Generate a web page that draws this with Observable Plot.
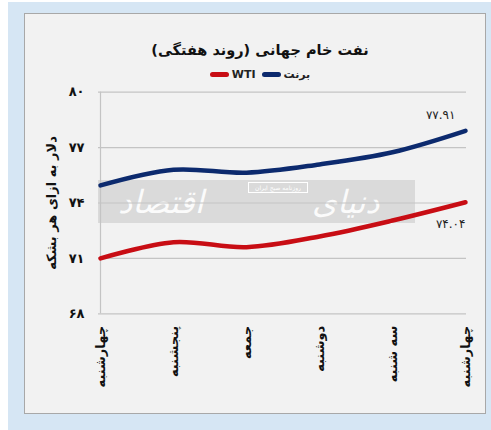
<!DOCTYPE html>
<html>
<head>
<meta charset="utf-8">
<script src="https://cdn.jsdelivr.net/npm/d3@7"></script>
<script src="https://cdn.jsdelivr.net/npm/@observablehq/plot@0.6"></script>
<style>
  body { margin: 0; background: #fff; width: 491px; height: 430px; overflow: hidden; position: relative; font-family: "DejaVu Sans", sans-serif; }
  .outer { position: absolute; left: 8px; top: 2px; width: 483px; height: 428px; background: #d6e6f4; }
  .panel { position: absolute; left: 24px; top: 13px; width: 462px; height: 401px; background: #f2f2f2; border: 1px solid #a8a8a8; box-sizing: border-box; }
  .title { position: absolute; left: 130px; width: 260px; top: 42px; text-align: center; font-weight: bold; font-size: 14.5px; color: #111; direction: rtl; }
  .legend { position: absolute; left: 160px; width: 200px; top: 68px; display: flex; justify-content: center; direction: rtl; gap: 6px; font-size: 11px; font-weight: bold; color: #222; }
  .legend .item { display: flex; align-items: center; gap: 3px; }
  .legend .sw { display: inline-block; width: 19px; height: 5px; border-radius: 3px; }
  .wm { position: absolute; left: 98px; top: 180px; width: 317px; height: 43px; background: rgba(210,210,210,0.75); overflow: hidden; }
  .wm .big { position: absolute; top: 4px; height: 36px; line-height: 36px; color: #fff; font-size: 32px; font-style: italic; direction: rtl; opacity: 0.9; white-space: nowrap; }
  .wm .small { position: absolute; left: 150px; top: 2px; width: 58px; height: 9px; border: 1px solid #fff; color: #fff; font-size: 6px; line-height: 9px; text-align: center; direction: rtl; white-space: nowrap; }
  #chart { position: absolute; left: 0; top: 0; }
</style>
</head>
<body>
<div class="outer"></div>
<div class="panel"></div>
<div class="wm"><div class="big" style="left:20px">اقتصاد</div><div class="big" style="left:214px">دنیای</div><div class="small">روزنامه صبح ایران</div></div>
<div class="title">نفت خام جهانی (روند هفتگی)</div>
<div class="legend" id="legend"></div>
<div id="chart"></div>
<script>
const days = ["چهارشنبه", "پنجشنبه", "جمعه", "دوشنبه", "سه شنبه", "چهارشنبه"];
const brent = [74.95, 75.8, 75.64, 76.09, 76.75, 77.91];
const wti = [71.0, 71.88, 71.61, 72.19, 73.05, 74.04];
const yTicks = [68, 71, 74, 77, 80];
const seriesNames = ["برنت", "WTI"];
const seriesColors = ["#0c2a6e", "#c80d14"];
const endLabels = ["۷۷.۹۱", "۷۴.۰۴"];

const fa = s => String(s).replace(/[0-9]/g, d => "۰۱۲۳۴۵۶۷۸۹"[+d]);

const rows = [];
days.forEach((d, i) => {
  rows.push({i, s: seriesNames[0], v: brent[i]});
  rows.push({i, s: seriesNames[1], v: wti[i]});
});
const last = days.length - 1;

// legend
const leg = document.getElementById("legend");
seriesNames.forEach((n, k) => {
  const it = document.createElement("div");
  it.className = "item";
  it.innerHTML = `<span>${n}</span><span class="sw" style="background:${seriesColors[k]}"></span>`;
  leg.appendChild(it);
});

const chart = Plot.plot({
  width: 491,
  height: 410,
  marginLeft: 98,
  marginRight: 25,
  marginTop: 91.7,
  marginBottom: 96.7,
  style: {background: "transparent", fontFamily: "DejaVu Sans, sans-serif", fontSize: "13px", fontWeight: "bold", color: "#111"},
  x: {type: "point", domain: days.map((d, i) => i), padding: 0, axis: null},
  y: {domain: [68, 80], ticks: yTicks, axis: null},
  color: {domain: seriesNames, range: seriesColors},
  marks: [
    Plot.ruleY(yTicks, {stroke: "#c4c4c4", strokeWidth: 1.2}),
    Plot.ruleX([0], {stroke: "#c4c4c4", strokeWidth: 1.2}),
    Plot.axisY({ticks: yTicks, tickSize: 0, tickPadding: 14, tickFormat: fa, fontSize: 13, fontWeight: "bold",
      label: "دلار به ازای هر بشکه", labelAnchor: "center", labelArrow: "none", labelOffset: 52}),
    Plot.axisX({ticks: days.map((d, i) => i), tickSize: 0, tickPadding: 12, tickRotate: -90,
      tickFormat: i => days[i], fontSize: 13, fontWeight: "bold", label: null}),
    Plot.line(rows, {x: "i", y: "v", stroke: "s", z: "s", strokeWidth: 4.5, curve: "catmull-rom"}),
    Plot.text([brent[last]], {x: () => last, y: d => d, text: () => endLabels[0], textAnchor: "end", dx: -10, dy: -16, fontSize: 12, fontWeight: "normal", fill: "#222"}),
    Plot.text([wti[last]], {x: () => last, y: d => d, text: () => endLabels[1], textAnchor: "end", dx: 0, dy: 22, fontSize: 12, fontWeight: "normal", fill: "#222"})
  ]
});
document.getElementById("chart").appendChild(chart);
</script>
</body>
</html>
